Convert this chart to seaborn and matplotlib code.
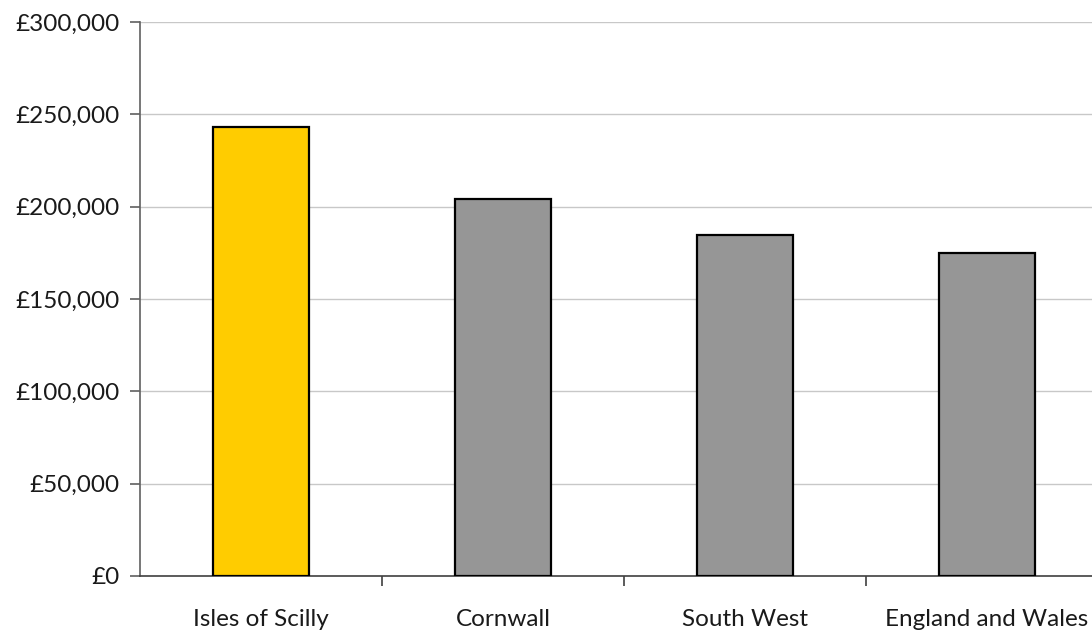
import matplotlib
matplotlib.use("Agg")
import matplotlib.pyplot as plt
import matplotlib.ticker as mticker
import seaborn as sns
import pandas as pd

categories = ["Isles of Scilly", "Cornwall", "South West", "England and Wales"]
values = [243000, 204000, 184500, 175000]
bar_colors = ["#FFCC00", "#969696", "#969696", "#969696"]
y_ticks = [0, 50000, 100000, 150000, 200000, 250000, 300000]

sns.set_theme(style="white")
plt.rcParams['font.family'] = ['Lato', 'DejaVu Sans']

df = pd.DataFrame({"area": categories, "price": values})

fig = plt.figure(figsize=(10.92, 6.31), dpi=100)
ax = fig.add_axes([140/1092, 55/631, 968/1092, 554/631])

sns.barplot(data=df, x="area", y="price", hue="area", palette=bar_colors,
            legend=False, width=0.4, edgecolor="black", linewidth=1.6,
            saturation=1, ax=ax, zorder=3)

ax.set_xlim(-0.5, len(categories) - 0.5)
ax.set_ylim(0, 300000)
ax.set_yticks(y_ticks)
ax.yaxis.set_major_formatter(mticker.FuncFormatter(lambda v, p: f"£{int(v):,}"))
ax.grid(axis="y", color="#c8c8c8", linewidth=1, zorder=0)
ax.set_axisbelow(True)

ax.set_xlabel("")
ax.set_ylabel("")

for s in ["top", "right"]:
    ax.spines[s].set_visible(False)
ax.spines["left"].set_color("#606060")
ax.spines["bottom"].set_color("#404040")
ax.spines["left"].set_linewidth(1.2)
ax.spines["bottom"].set_linewidth(1.2)

ax.tick_params(axis="y", which="major", left=True, length=7, width=1.2,
               color="#606060", pad=8, labelsize=17.5, labelcolor="#1a1a1a")
ax.tick_params(axis="x", which="major", bottom=False, length=0, pad=24,
               labelsize=17.5, labelcolor="#1a1a1a")
ax.set_xticks([i + 0.5 for i in range(len(categories) - 1)], minor=True)
ax.tick_params(axis="x", which="minor", bottom=True, length=7, width=1.2,
               color="#404040")

fig.savefig("out.png", dpi=100)
